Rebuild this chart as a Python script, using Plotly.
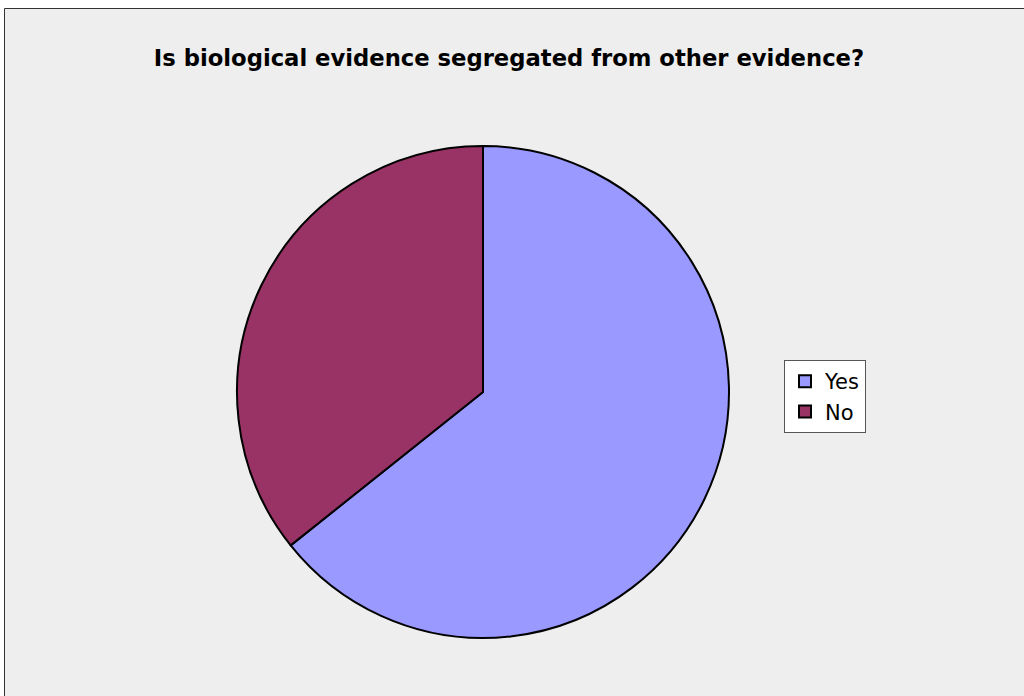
import plotly.graph_objects as go

labels = ["Yes", "No"]
values = [9, 5]
colors = ["#9999FF", "#993366"]

W, H = 1024, 696
cx, cy, r = 483, 392, 246

fig = go.Figure(go.Pie(
    labels=labels, values=values, sort=False, direction="clockwise", rotation=0,
    marker=dict(colors=colors, line=dict(color="black", width=2)),
    textinfo="none", hoverinfo="label+percent",
    domain=dict(x=[(cx - r) / W, (cx + r) / W], y=[1 - (cy + r) / H, 1 - (cy - r) / H]),
))

fig.update_layout(
    width=W, height=H, autosize=False,
    margin=dict(l=0, r=0, t=0, b=0),
    paper_bgcolor="white", plot_bgcolor="white",
    title=dict(text="<b>Is biological evidence segregated from other evidence?</b>",
               x=509 / W, xanchor="center", y=1 - 58 / H, yanchor="middle",
               font=dict(family="DejaVu Sans", size=22.7, color="black")),
    legend=dict(x=784 / W, xanchor="left", y=1 - 360 / H, yanchor="top",
                bgcolor="white", bordercolor="#555555", borderwidth=1,
                font=dict(family="DejaVu Sans", size=21, color="black")),
    shapes=[dict(type="rect", xref="paper", yref="paper",
                 x0=4.5 / W, x1=1.02, y0=-0.02, y1=1 - 8.5 / H,
                 fillcolor="#EEEEEE", line=dict(color="#333333", width=1), layer="below")],
)

fig.write_html("out.html", config={"displayModeBar": False},
               post_script="document.body.style.margin='0';document.body.style.overflow='hidden';")
